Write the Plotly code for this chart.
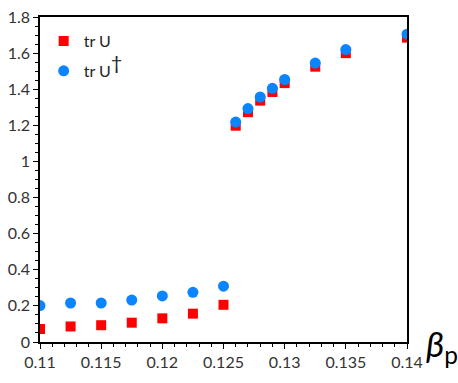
import plotly.graph_objects as go

beta = [0.11, 0.1125, 0.115, 0.1175, 0.12, 0.1225, 0.125,
        0.126, 0.127, 0.128, 0.129, 0.13, 0.1325, 0.135, 0.14]
tr_u = [0.072, 0.086, 0.093, 0.107, 0.131, 0.157, 0.206,
        1.198, 1.273, 1.337, 1.385, 1.434, 1.525, 1.600, 1.686]
tr_udag = [0.202, 0.216, 0.216, 0.232, 0.255, 0.275, 0.309,
           1.218, 1.293, 1.357, 1.405, 1.454, 1.545, 1.620, 1.705]

x_ticks = [0.11, 0.115, 0.12, 0.125, 0.13, 0.135, 0.14]
x_labels = ["0.11", "0.115", "0.12", "0.125", "0.13", "0.135", "0.14"]
y_ticks = [0, 0.2, 0.4, 0.6, 0.8, 1, 1.2, 1.4, 1.6, 1.8]
y_labels = ["0", "0.2", "0.4", "0.6", "0.8", "1", "1.2", "1.4", "1.6", "1.8"]

FONT = "Lato"

fig = go.Figure()
fig.add_trace(go.Scatter(x=beta, y=tr_u, mode="markers", name="tr U", legendgroup="a",
                         marker=dict(symbol="square", size=10, color="#ff0000")))
fig.add_trace(go.Scatter(x=beta, y=tr_udag, mode="markers", legendgroup="b",
                         name="tr U<sup><span style='font-size:20px'>†</span></sup>",
                         marker=dict(symbol="circle", size=11, color="#0a84ff")))

axis_common = dict(showline=True, linecolor="black", linewidth=1.5, mirror=True,
                   ticks="outside", tickcolor="black", ticklen=5, tickwidth=1,
                   showgrid=False, zeroline=False, ticklabeloverflow="allow",
                   tickfont=dict(family=FONT, size=16, color="#333333"))

fig.update_xaxes(range=[0.11, 0.14], tickvals=x_ticks, ticktext=x_labels,
                 minor=dict(dtick=0.001, tick0=0.11, ticks="outside", ticklen=3, tickcolor="black", showgrid=False),
                 **axis_common)
fig.update_yaxes(range=[0, 1.8002], tickvals=y_ticks, ticktext=y_labels,
                 minor=dict(dtick=0.05, tick0=0, ticks="outside", ticklen=3, tickcolor="black", showgrid=False),
                 **axis_common)

fig.add_annotation(text="<i>β</i><sub>p</sub>", xref="paper", yref="paper",
                   x=1.045, y=-0.01, xanchor="left", yanchor="middle", showarrow=False,
                   font=dict(family=FONT, size=35, color="black"))

fig.update_layout(width=458, height=383, margin=dict(l=40, r=51, t=7, b=41),
                  plot_bgcolor="white", paper_bgcolor="white",
                  showlegend=True,
                  legend=dict(x=0.01, y=0.978, xanchor="left", yanchor="top",
                              bgcolor="rgba(0,0,0,0)", font=dict(family=FONT, size=16, color="#222"),
                              traceorder="grouped", tracegroupgap=6, itemwidth=30))

fig.write_html("out.html")
